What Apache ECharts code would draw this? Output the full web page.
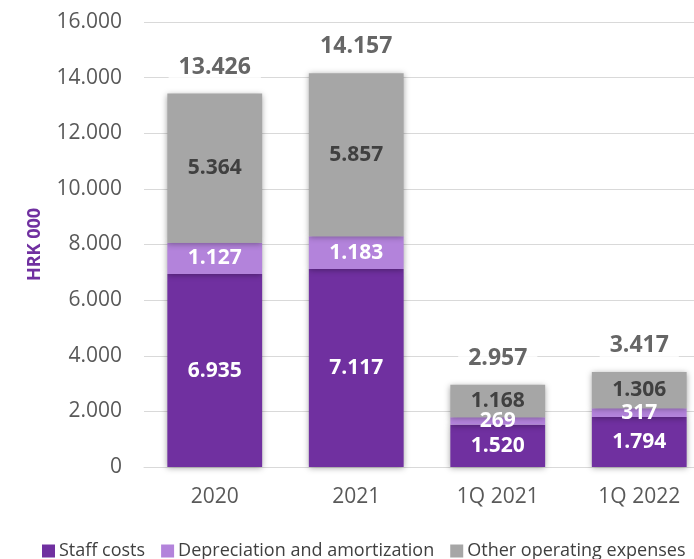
<!DOCTYPE html>
<html>
<head>
<meta charset="utf-8">
<script src="https://cdn.jsdelivr.net/npm/echarts@6/dist/echarts.min.js"></script>
<style>
  html, body { margin: 0; padding: 0; background: #fff; overflow: hidden; }
  /* the plot runs slightly past the right edge of the window */
  #chart { width: 710px; height: 559px; }
</style>
</head>
<body>
<div id="chart"></div>
<script>
// Operating expenses by period, HRK 000
const categories = ['2020', '2021', '1Q 2021', '1Q 2022'];
const staffCosts = [6935, 7117, 1520, 1794];
const depreciation = [1127, 1183, 269, 317];
const otherExpenses = [5364, 5857, 1168, 1306];
const totals = [13426, 14157, 2957, 3417];
const yTicks = { min: 0, max: 16000, interval: 2000 };

const FONT = '"Open Sans", sans-serif';

// Croatian-style thousands separator
function fmt(v) {
  return String(v).replace(/\B(?=(\d{3})+(?!\d))/g, '.');
}

const shadow = {
  shadowBlur: 6,
  shadowOffsetX: 0,
  shadowOffsetY: 1,
  shadowColor: 'rgba(0,0,0,0.35)'
};

function stackSeries(name, data, color, textColor) {
  return {
    name: name,
    type: 'bar',
    stack: 'total',
    data: data,
    barWidth: '67%',
    itemStyle: Object.assign({ color: color }, shadow),
    label: {
      show: true,
      position: 'inside',
      formatter: p => fmt(p.value),
      color: textColor,
      fontFamily: FONT,
      fontWeight: 'bold',
      fontSize: 21
    },
    emphasis: { disabled: true }
  };
}

const chart = echarts.init(document.getElementById('chart'));
chart.setOption({
  animation: false,
  textStyle: { fontFamily: FONT },
  grid: { left: 144, top: 22, bottom: 92, right: 0, containLabel: false },
  legend: {
    top: 537,
    left: 37,
    width: 1000,
    itemWidth: 13,
    itemHeight: 13,
    itemGap: 16,
    icon: 'rect',
    textStyle: { fontFamily: FONT, fontSize: 18, color: '#404040', padding: [0, 0, 0, -1] },
    data: ['Staff costs', 'Depreciation and amortization', 'Other operating expenses']
  },
  xAxis: {
    type: 'category',
    data: categories,
    axisTick: { show: false },
    axisLine: { show: true, lineStyle: { color: '#d9d9d9', width: 1 } },
    axisLabel: { color: '#595959', fontSize: 21, fontFamily: FONT, margin: 20 }
  },
  yAxis: {
    type: 'value',
    min: yTicks.min,
    max: yTicks.max,
    interval: yTicks.interval,
    name: 'HRK 000',
    nameLocation: 'middle',
    nameGap: 100,
    nameRotate: 90,
    nameTextStyle: { color: '#7030A0', fontWeight: 'bold', fontSize: 18, fontFamily: FONT },
    axisLine: { show: false },
    axisTick: { show: false },
    splitLine: { lineStyle: { color: '#d9d9d9', width: 1 } },
    axisLabel: { color: '#595959', fontSize: 21, fontFamily: FONT, margin: 22, formatter: v => fmt(v) }
  },
  series: [
    stackSeries('Staff costs', staffCosts, '#7030A0', '#ffffff'),
    stackSeries('Depreciation and amortization', depreciation, '#B383DB', '#ffffff'),
    stackSeries('Other operating expenses', otherExpenses, '#A6A6A6', '#404040'),
    {
      name: 'Total',
      type: 'scatter',
      data: totals,
      symbolSize: 0,
      silent: true,
      z: 10,
      label: {
        show: true,
        position: 'top',
        distance: 13,
        formatter: p => fmt(p.value),
        color: '#404040',
        fontFamily: FONT,
        fontWeight: 'bold',
        fontSize: 23,
        backgroundColor: '#ffffff',
        padding: [2, 10]
      }
    }
  ]
});
</script>
</body>
</html>
